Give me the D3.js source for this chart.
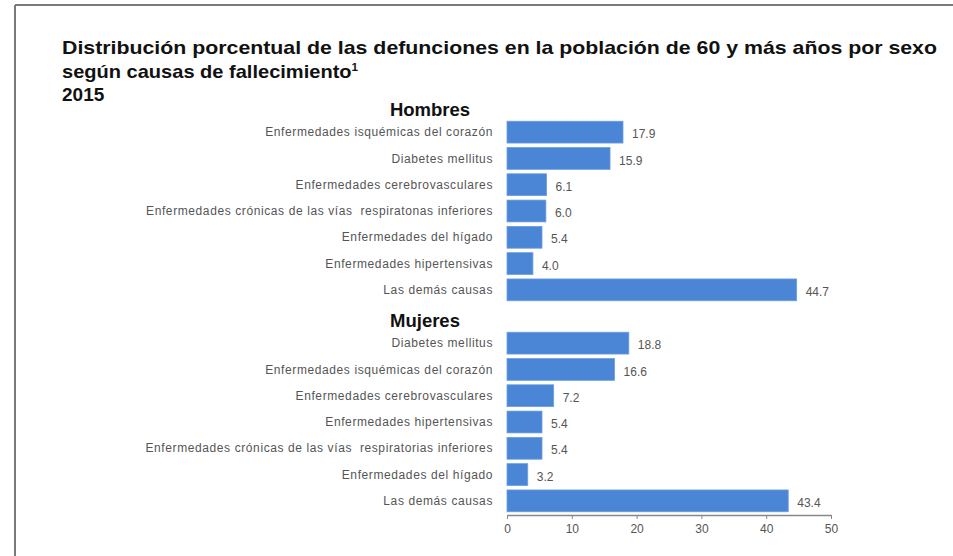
<!DOCTYPE html>
<html>
<head>
<meta charset="utf-8">
<script src="https://cdn.jsdelivr.net/npm/d3@7"></script>
<style>
  html, body { margin: 0; padding: 0; background: #ffffff; }
  svg { display: block; }
  text { white-space: pre; }
</style>
</head>
<body>
<svg id="chart" width="953" height="556"></svg>
<script>
const titleLines = [
  "Distribución porcentual de las defunciones en la población de 60 y más años por sexo",
  "según causas de fallecimiento",
  "2015"
];
const menLabel = "Hombres";
const womenLabel = "Mujeres";
const menCauses = [
  "Enfermedades isquémicas del corazón",
  "Diabetes mellitus",
  "Enfermedades cerebrovasculares",
  "Enfermedades crónicas de las vías  respiratonas inferiores",
  "Enfermedades del hígado",
  "Enfermedades hipertensivas",
  "Las demás causas"
];
const menValues = [17.9, 15.9, 6.1, 6.0, 5.4, 4.0, 44.7];
const womenCauses = [
  "Diabetes mellitus",
  "Enfermedades isquémicas del corazón",
  "Enfermedades cerebrovasculares",
  "Enfermedades hipertensivas",
  "Enfermedades crónicas de las vías  respiratorias inferiores",
  "Enfermedades del hígado",
  "Las demás causas"
];
const womenValues = [18.8, 16.6, 7.2, 5.4, 5.4, 3.2, 43.4];
const xTicks = [0, 10, 20, 30, 40, 50];

const svg = d3.select("#chart");
const font = "'Liberation Sans', Arial, sans-serif";

// frame
svg.append("line").attr("x1", 15).attr("x2", 953).attr("y1", 5).attr("y2", 5)
  .attr("stroke", "#7a7a7a").attr("stroke-width", 2);
svg.append("line").attr("x1", 15).attr("x2", 15).attr("y1", 5).attr("y2", 556)
  .attr("stroke", "#7a7a7a").attr("stroke-width", 2);

// title
const t = svg.append("g").attr("font-family", font).attr("font-weight", "bold")
  .attr("font-size", 19).attr("fill", "#111");
t.append("text").attr("x", 62).attr("y", 54)
  .attr("textLength", 875).attr("lengthAdjust", "spacingAndGlyphs").text(titleLines[0]);
const l2 = t.append("text").attr("x", 62).attr("y", 78)
  .attr("textLength", 296).attr("lengthAdjust", "spacingAndGlyphs");
l2.append("tspan").text(titleLines[1]);
l2.append("tspan").attr("dy", -7).attr("font-size", 11).text("1");
t.append("text").attr("x", 62).attr("y", 101).text(titleLines[2]);

const x = d3.scaleLinear().domain([0, 50]).range([507, 831]);
const yMen = d3.scaleBand().domain(menCauses).range([119, 303]).paddingInner(0.17).paddingOuter(0.085);
const yWomen = d3.scaleBand().domain(womenCauses).range([330, 514]).paddingInner(0.17).paddingOuter(0.085);

const barColor = "#4a85d6";

function panel(causes, values, y, title, titleX, titleY) {
  const g = svg.append("g");
  g.append("text").attr("x", titleX).attr("y", titleY).attr("text-anchor", "middle")
    .attr("font-family", font).attr("font-weight", "bold").attr("font-size", 18.5)
    .attr("fill", "#111").text(title);
  const data = causes.map((c, i) => ({c, v: values[i]}));
  g.selectAll("rect").data(data).join("rect")
    .attr("x", x(0)).attr("y", d => y(d.c))
    .attr("width", d => x(d.v) - x(0)).attr("height", y.bandwidth())
    .attr("fill", barColor).attr("stroke", "#6a9ee0").attr("stroke-width", 0.8);
  g.selectAll("text.cat").data(data).join("text").attr("class", "cat")
    .attr("x", 493).attr("y", d => y(d.c) + y.bandwidth() / 2).attr("dy", "0.35em")
    .attr("text-anchor", "end").attr("font-family", font).attr("font-size", 12)
    .attr("letter-spacing", 0.6)
    .attr("fill", "#555").text(d => d.c);
  g.selectAll("text.val").data(data).join("text").attr("class", "val")
    .attr("x", d => x(d.v) + 9).attr("y", d => y(d.c) + y.bandwidth() / 2 + 2).attr("dy", "0.35em")
    .attr("font-family", font).attr("font-size", 12)
    .attr("fill", "#555").text(d => d3.format(".1f")(d.v));
}

panel(menCauses, menValues, yMen, menLabel, 430, 116);
panel(womenCauses, womenValues, yWomen, womenLabel, 425, 327);

// axis
const axis = svg.append("g").attr("transform", "translate(0,515)")
  .call(d3.axisBottom(x).tickValues(xTicks).tickSize(4).tickSizeOuter(0).tickFormat(d3.format("d")));
axis.select(".domain").attr("stroke", "#888").attr("stroke-width", 1.5);
axis.selectAll(".tick line").attr("stroke", "#888");
axis.selectAll(".tick text").attr("font-family", font).attr("font-size", 12)
  .attr("fill", "#555").attr("dy", "0.9em");
</script>
</body>
</html>
